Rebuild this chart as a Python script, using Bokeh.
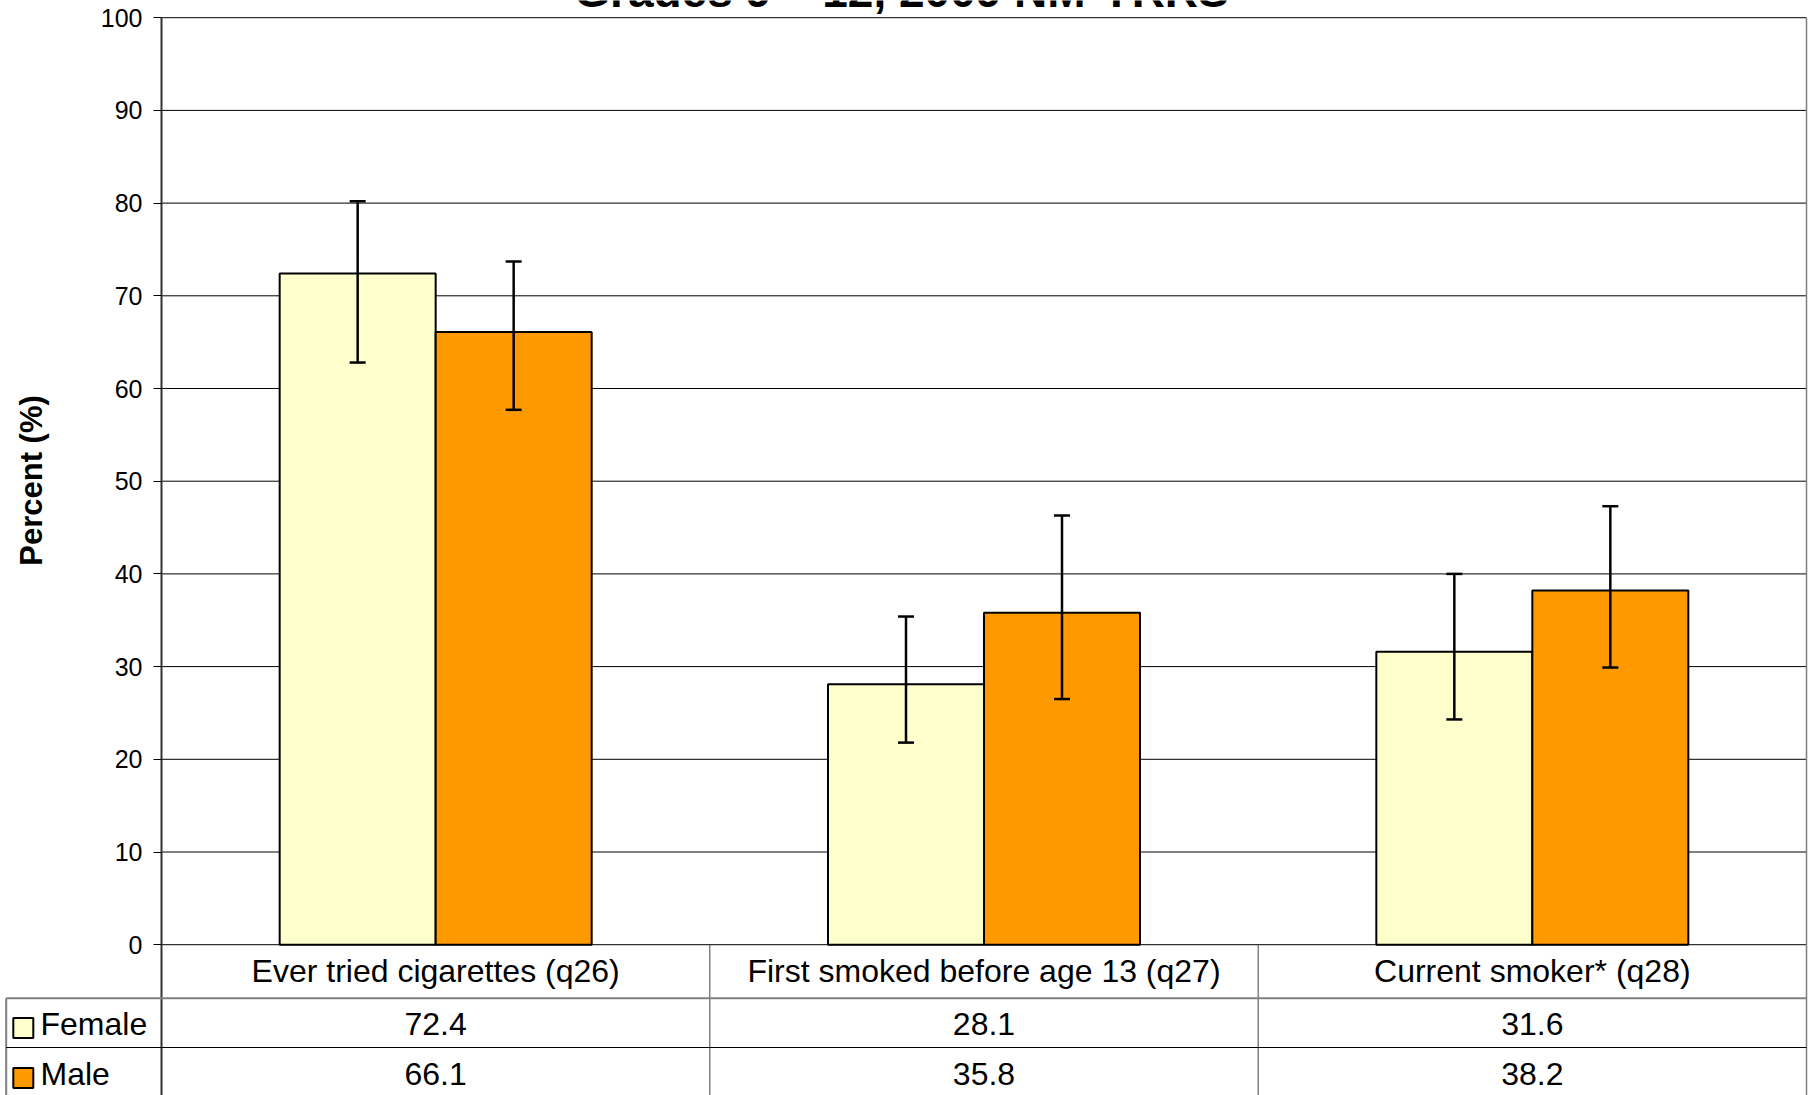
import math
from bokeh.plotting import figure
from bokeh.models import ColumnDataSource, Range1d, FixedTicker, Label
from bokeh.embed import file_html
from bokeh.resources import INLINE
from bokeh.core.properties import value

# ---------------- data ----------------
categories = ["Ever tried cigarettes (q26)", "First smoked before age 13 (q27)", "Current smoker* (q28)"]
series_names = ["Female", "Male"]
female = [72.4, 28.1, 31.6]
male = [66.1, 35.8, 38.2]
female_low = [62.8, 21.8, 24.3]
female_high = [80.2, 35.4, 40.0]
male_low = [57.7, 26.5, 29.9]
male_high = [73.7, 46.3, 47.3]
y_ticks = [0, 10, 20, 30, 40, 50, 60, 70, 80, 90, 100]
title_text = "Grades 9 \u2013 12, 2009 NM-YRRS"
y_axis_title = "Percent (%)"

# ---------------- style / layout (page pixels) ----------------
FONT = "Liberation Sans"
FEMALE_COLOR = "#FFFFCC"
MALE_COLOR = "#FF9900"
W, H = 1813, 1095
Y100 = 17.2         # page y of value 100
Y0 = 944.2          # page y of value 0
X_AX = 161          # page x of the value axis
X_END = 1806        # page x of the plot's right edge
n = len(categories)
UNIT = (X_END - X_AX) / n
PX = (Y0 - Y100) / 100.0


def vx(px):
    return (px - X_AX) / UNIT


def vy(py):
    return (Y0 - py) / PX


BAR_W = 156 / UNIT
xc = [i + 0.5 for i in range(n)]
src = ColumnDataSource(dict(
    xf=[c - BAR_W / 2 for c in xc], xm=[c + BAR_W / 2 for c in xc],
    female=female, male=male, f_lo=female_low, f_hi=female_high,
    m_lo=male_low, m_hi=male_high))

p = figure(x_range=Range1d(vx(0), vx(W)), y_range=Range1d(vy(H), vy(0)),
           width=W, height=H, output_backend="svg", toolbar_location=None,
           min_border=0, x_axis_location=None)
p.grid.visible = False
p.outline_line_color = None

AXIS_COLOR = "#333333"
ax = p.yaxis[0]
ax.fixed_location = 0
ax.bounds = (y_ticks[0], y_ticks[-1])
ax.ticker = FixedTicker(ticks=y_ticks)
ax.major_label_text_font = FONT
ax.major_label_text_font_size = "25px"
ax.major_label_text_color = "black"
ax.major_tick_out = 8
ax.major_tick_in = 0
ax.major_tick_line_color = "black"
ax.minor_tick_line_color = None
ax.axis_line_color = AXIS_COLOR
ax.axis_line_width = 2
ax.major_label_standoff = 11

# horizontal grid lines (0..100) across the plot area
p.segment(x0=[0] * len(y_ticks), y0=y_ticks, x1=[n] * len(y_ticks), y1=y_ticks,
          line_color="black", line_width=1)

for xcol, top_col, lo, hi, color in [("xf", "female", "f_lo", "f_hi", FEMALE_COLOR),
                                      ("xm", "male", "m_lo", "m_hi", MALE_COLOR)]:
    p.vbar(x=xcol, top=top_col, bottom=0, width=BAR_W, source=src,
           fill_color=color, line_color="black", line_width=2)
    p.segment(x0=xcol, y0=lo, x1=xcol, y1=hi, source=src, line_color="black", line_width=2.5)
    p.scatter(x=xcol, y=lo, source=src, marker="dash", size=16, line_color="black", line_width=2.5)
    p.scatter(x=xcol, y=hi, source=src, marker="dash", size=16, line_color="black", line_width=2.5)

# ---------------- data table under the chart ----------------
y_bot = vy(H)
left_x = vx(5.7)
# value-axis line continuing through the table
p.segment(x0=[0], y0=[0], x1=[0], y1=[y_bot], line_color=AXIS_COLOR, line_width=2)
# right border
p.segment(x0=[n], y0=[100], x1=[n], y1=[y_bot], line_color="#808080", line_width=1.5)
# column dividers
p.segment(x0=list(range(1, n)), y0=[0] * (n - 1), x1=list(range(1, n)), y1=[y_bot] * (n - 1),
          line_color="#444444", line_width=1)
# left border of legend column
p.segment(x0=[left_x], y0=[vy(997.7)], x1=[left_x], y1=[y_bot], line_color="#808080", line_width=2)
# row lines
p.segment(x0=[left_x, left_x], y0=[vy(997.7), vy(1047)], x1=[n, n], y1=[vy(997.7), vy(1047)],
          line_color=["#808080", "black"], line_width=[2, 1])

p.text(x=xc, y=[vy(970)] * n, text=categories, text_font=value(FONT),
       text_font_size="32px", text_align="center", text_baseline="middle", text_color="black")
row_y = [vy(1023), vy(1073)]
for vals, ry in zip([female, male], row_y):
    p.text(x=xc, y=[ry] * n, text=[f"{v:.1f}" for v in vals], text_font=value(FONT),
           text_font_size="32px", text_align="center", text_baseline="middle", text_color="black")
p.scatter(x=[vx(22.8)] * 2, y=[vy(1027.5), vy(1077.5)], marker="square", size=20,
          fill_color=[FEMALE_COLOR, MALE_COLOR], line_color="black", line_width=2)
p.text(x=[vx(40)] * 2, y=row_y, text=series_names, text_font=value(FONT),
       text_font_size="32px", text_align="left", text_baseline="middle", text_color="black")

# axis title
p.text(x=[vx(31)], y=[vy(480)], text=[y_axis_title], angle=math.pi / 2, text_font=value(FONT),
       text_font_size="31px", text_font_style="bold", text_align="center",
       text_baseline="middle", text_color="black")

# chart title (mostly above the page, as in the original)
p.add_layout(Label(x=vx(901), y=vy(-10), text=title_text, text_font=FONT, text_font_size="46px",
                   text_font_style="bold", text_align="center", text_baseline="middle",
                   text_color="black"))

open("out.html", "w").write(file_html(p, INLINE))
